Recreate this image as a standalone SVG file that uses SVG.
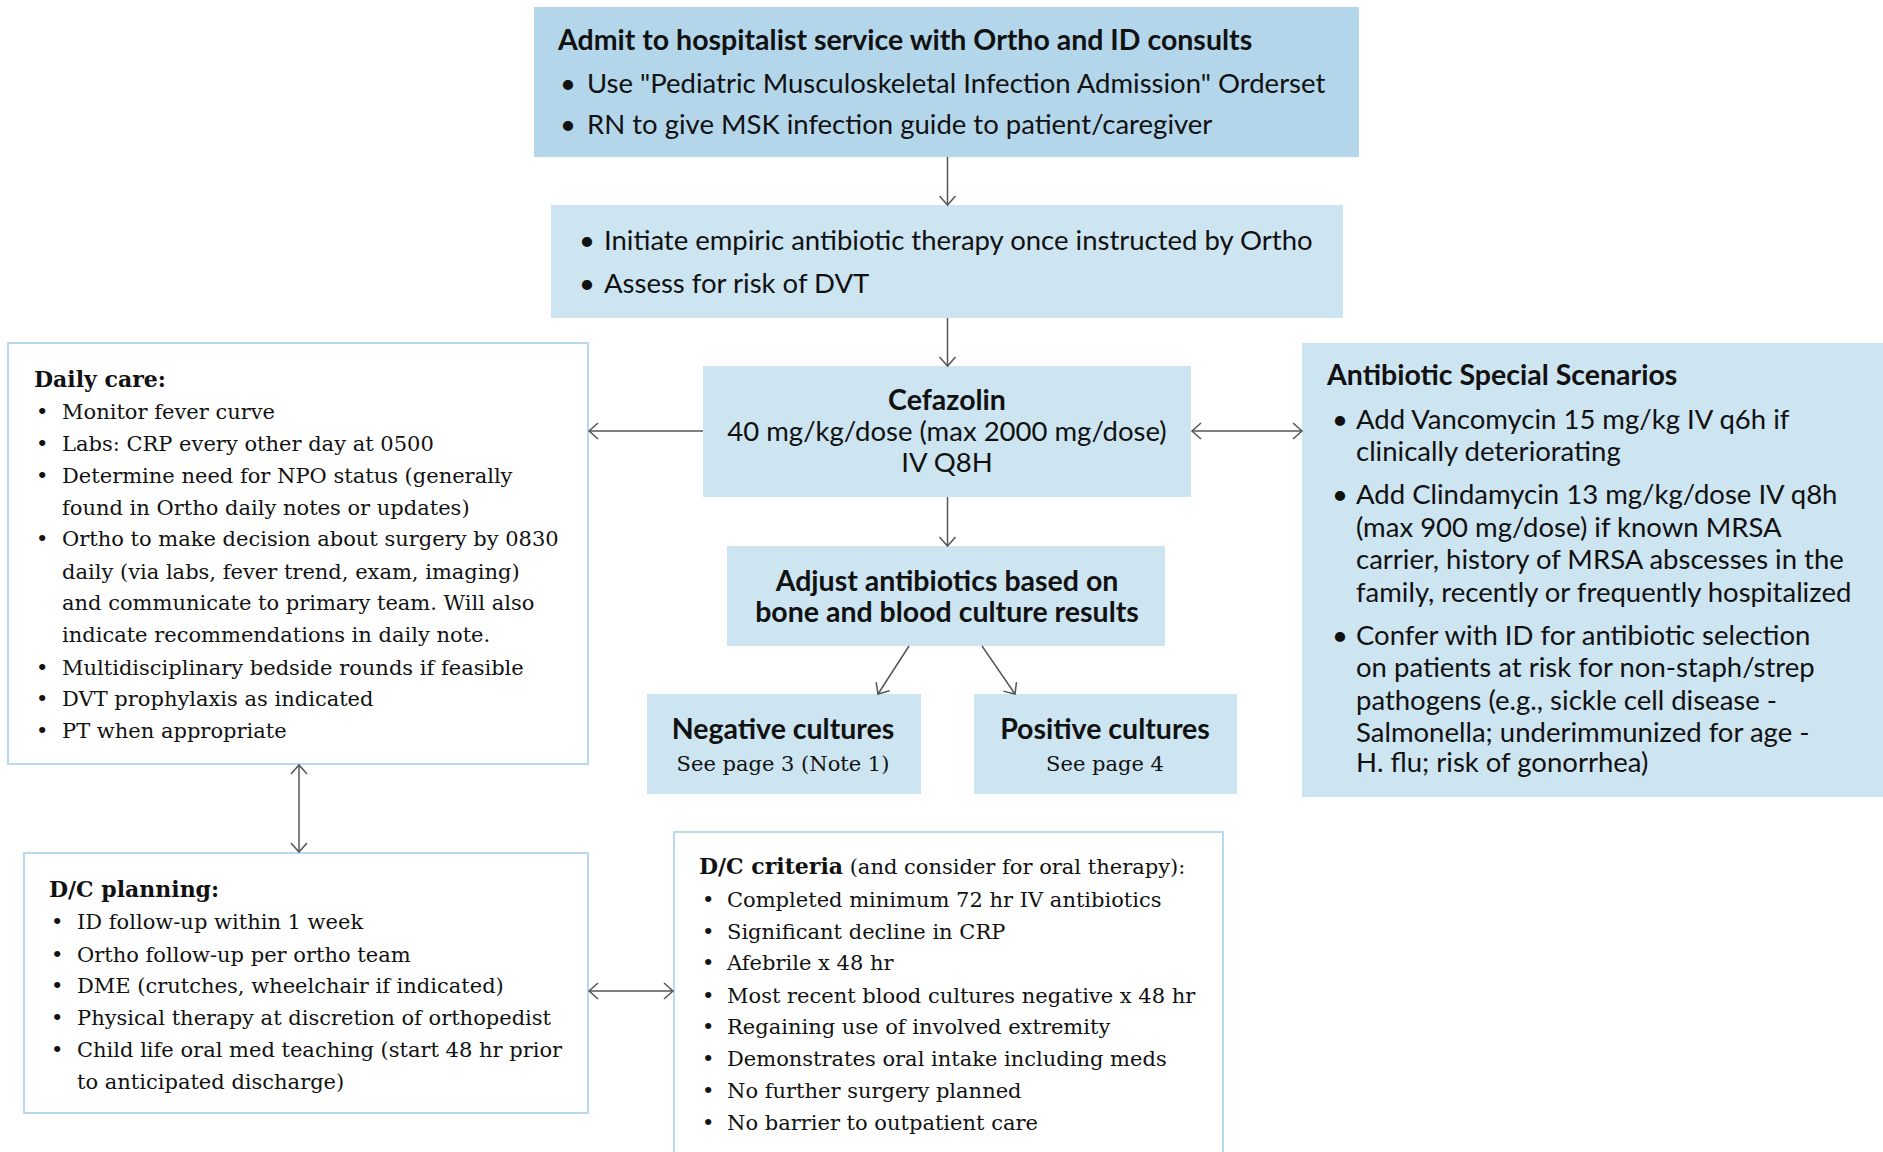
<svg xmlns="http://www.w3.org/2000/svg" width="1883" height="1152" viewBox="0 0 1883 1152">
<style>
.dark{fill:#b3d6eb}
.light{fill:#cde4f1}
.white{fill:#ffffff;stroke:#b9d9ee;stroke-width:2}
.s{font-family:Lato,"Noto Sans","Liberation Sans",sans-serif;font-size:27.5px;fill:#111}
.sb{font-family:Lato,"Noto Sans","Liberation Sans",sans-serif;font-size:28.5px;font-weight:bold;fill:#111}
.r{font-family:"DejaVu Serif","Liberation Serif",serif;font-size:21px;fill:#111}
.rb{font-family:"DejaVu Serif","Liberation Serif",serif;font-size:22px;font-weight:bold;fill:#111}
.c{text-anchor:middle}
.conn line{stroke:#555;stroke-width:1.5;fill:none}
</style>
<defs>
<marker id="ah" markerUnits="userSpaceOnUse" markerWidth="14" markerHeight="18" refX="10" refY="9" orient="auto-start-reverse" viewBox="0 0 14 18">
<path d="M1,1 L10,9 L1,17" fill="none" stroke="#555" stroke-width="1.5"/>
</marker>
</defs>
<rect width="1883" height="1152" fill="#ffffff"/>

<g id="admit">
<rect class="dark" x="534" y="7" width="825" height="150"/>
<text class="sb" x="558" y="50">Admit to hospitalist service with Ortho and ID consults</text>
<text class="s" x="560" y="93">•</text><text class="s" x="587" y="93">Use "Pediatric Musculoskeletal Infection Admission" Orderset</text>
<text class="s" x="560" y="134">•</text><text class="s" x="587" y="134">RN to give MSK infection guide to patient/caregiver</text>
</g>

<g id="initiate">
<rect class="light" x="551" y="205" width="792" height="113"/>
<text class="s" x="579" y="250">•</text><text class="s" x="604" y="250">Initiate empiric antibiotic therapy once instructed by Ortho</text>
<text class="s" x="579" y="293">•</text><text class="s" x="604" y="293">Assess for risk of DVT</text>
</g>

<g id="cefazolin">
<rect class="light" x="703" y="366" width="488" height="131"/>
<text class="sb c" x="947" y="410">Cefazolin</text>
<text class="s c" x="947" y="441">40 mg/kg/dose (max 2000 mg/dose)</text>
<text class="s c" x="947" y="472">IV Q8H</text>
</g>

<g id="adjust">
<rect class="light" x="727" y="546" width="438" height="100"/>
<text class="sb c" x="947" y="591">Adjust antibiotics based on</text>
<text class="sb c" x="947" y="622">bone and blood culture results</text>
</g>

<g id="negative">
<rect class="light" x="647" y="694" width="274" height="100"/>
<text class="sb c" x="783" y="739">Negative cultures</text>
<text class="r c" x="783" y="771">See page 3 (Note 1)</text>
</g>

<g id="positive">
<rect class="light" x="974" y="694" width="263" height="100"/>
<text class="sb c" x="1105" y="739">Positive cultures</text>
<text class="r c" x="1105" y="771">See page 4</text>
</g>

<g id="special">
<rect class="light" x="1302" y="343" width="581" height="454"/>
<text class="sb" x="1327" y="385">Antibiotic Special Scenarios</text>
<text class="s" x="1332" y="429">•</text><text class="s" x="1356" y="429">Add Vancomycin 15 mg/kg IV q6h if</text>
<text class="s" x="1356" y="461">clinically deteriorating</text>
<text class="s" x="1332" y="504">•</text><text class="s" x="1356" y="504">Add Clindamycin 13 mg/kg/dose IV q8h</text>
<text class="s" x="1356" y="537">(max 900 mg/dose) if known MRSA</text>
<text class="s" x="1356" y="569">carrier, history of MRSA abscesses in the</text>
<text class="s" x="1356" y="602">family, recently or frequently hospitalized</text>
<text class="s" x="1332" y="645">•</text><text class="s" x="1356" y="645">Confer with ID for antibiotic selection</text>
<text class="s" x="1356" y="677">on patients at risk for non-staph/strep</text>
<text class="s" x="1356" y="710">pathogens (e.g., sickle cell disease -</text>
<text class="s" x="1356" y="742">Salmonella; underimmunized for age -</text>
<text class="s" x="1356" y="772">H. flu; risk of gonorrhea)</text>
</g>

<g id="daily">
<rect class="white" x="8" y="343" width="580" height="421"/>
<text class="rb" x="34" y="387">Daily care:</text>
<text class="r" x="36" y="419">•</text><text class="r" x="62" y="419">Monitor fever curve</text>
<text class="r" x="36" y="451">•</text><text class="r" x="62" y="451">Labs: CRP every other day at 0500</text>
<text class="r" x="36" y="483">•</text><text class="r" x="62" y="483">Determine need for NPO status (generally</text>
<text class="r" x="62" y="515">found in Ortho daily notes or updates)</text>
<text class="r" x="36" y="546">•</text><text class="r" x="62" y="546">Ortho to make decision about surgery by 0830</text>
<text class="r" x="62" y="579">daily (via labs, fever trend, exam, imaging)</text>
<text class="r" x="62" y="610">and communicate to primary team. Will also</text>
<text class="r" x="62" y="642">indicate recommendations in daily note.</text>
<text class="r" x="36" y="675">•</text><text class="r" x="62" y="675">Multidisciplinary bedside rounds if feasible</text>
<text class="r" x="36" y="706">•</text><text class="r" x="62" y="706">DVT prophylaxis as indicated</text>
<text class="r" x="36" y="738">•</text><text class="r" x="62" y="738">PT when appropriate</text>
</g>

<g id="dcplanning">
<rect class="white" x="24" y="853" width="564" height="260"/>
<text class="rb" x="49" y="897">D/C planning:</text>
<text class="r" x="51" y="929">•</text><text class="r" x="77" y="929">ID follow-up within 1 week</text>
<text class="r" x="51" y="962">•</text><text class="r" x="77" y="962">Ortho follow-up per ortho team</text>
<text class="r" x="51" y="993">•</text><text class="r" x="77" y="993">DME (crutches, wheelchair if indicated)</text>
<text class="r" x="51" y="1025">•</text><text class="r" x="77" y="1025">Physical therapy at discretion of orthopedist</text>
<text class="r" x="51" y="1057">•</text><text class="r" x="77" y="1057">Child life oral med teaching (start 48 hr prior</text>
<text class="r" x="77" y="1089">to anticipated discharge)</text>
</g>

<g id="dccriteria">
<rect class="white" x="674" y="832" width="549" height="340"/>
<text class="r" x="699" y="874"><tspan class="rb">D/C criteria</tspan> (and consider for oral therapy):</text>
<text class="r" x="702" y="907">•</text><text class="r" x="727" y="907">Completed minimum 72 hr IV antibiotics</text>
<text class="r" x="702" y="939">•</text><text class="r" x="727" y="939">Significant decline in CRP</text>
<text class="r" x="702" y="970">•</text><text class="r" x="727" y="970">Afebrile x 48 hr</text>
<text class="r" x="702" y="1003">•</text><text class="r" x="727" y="1003">Most recent blood cultures negative x 48 hr</text>
<text class="r" x="702" y="1034">•</text><text class="r" x="727" y="1034">Regaining use of involved extremity</text>
<text class="r" x="702" y="1066">•</text><text class="r" x="727" y="1066">Demonstrates oral intake including meds</text>
<text class="r" x="702" y="1098">•</text><text class="r" x="727" y="1098">No further surgery planned</text>
<text class="r" x="702" y="1130">•</text><text class="r" x="727" y="1130">No barrier to outpatient care</text>
</g>

<g class="conn" id="connectors">
<line x1="947.5" y1="157" x2="947.5" y2="205" marker-end="url(#ah)"/>
<line x1="947.5" y1="318" x2="947.5" y2="366" marker-end="url(#ah)"/>
<line x1="703" y1="431" x2="589" y2="431" marker-end="url(#ah)"/>
<line x1="1192" y1="431" x2="1302" y2="431" marker-start="url(#ah)" marker-end="url(#ah)"/>
<line x1="947.5" y1="497" x2="947.5" y2="546" marker-end="url(#ah)"/>
<line x1="909" y1="646" x2="878" y2="694" marker-end="url(#ah)"/>
<line x1="982" y1="646" x2="1015" y2="694" marker-end="url(#ah)"/>
<line x1="299" y1="765" x2="299" y2="852" marker-start="url(#ah)" marker-end="url(#ah)"/>
<line x1="589" y1="991" x2="673" y2="991" marker-start="url(#ah)" marker-end="url(#ah)"/>
</g>
</svg>
